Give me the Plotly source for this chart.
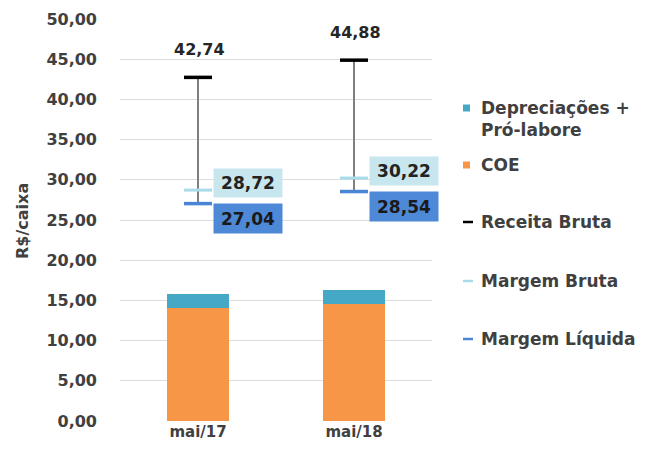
import plotly.graph_objects as go

# ---- data ----
categories = ["mai/17", "mai/18"]
coe = [14.0, 14.5]
depreciacoes = [1.75, 1.80]
receita_bruta = [42.74, 44.88]
margem_bruta = [28.72, 30.22]
margem_liquida = [27.04, 28.54]
y_ticks = [0, 5, 10, 15, 20, 25, 30, 35, 40, 45, 50]
y_tick_labels = ["0,00", "5,00", "10,00", "15,00", "20,00", "25,00",
                 "30,00", "35,00", "40,00", "45,00", "50,00"]

# ---- styles ----
C_COE = "#f79646"
C_DEP = "#45a9c6"
C_RB = "#000000"
C_MB = "#a9dbe8"
C_ML = "#4a86d6"
BOX_MB = "#c8e6ee"
BOX_ML = "#4e89d8"
TXT = "#404040"
FONT = "DejaVu Sans"

xs = list(range(len(categories)))

def fmt(v):
    return f"{v:.2f}".replace(".", ",")

fig = go.Figure()
fig.add_trace(go.Bar(x=xs, y=coe, width=0.4, marker=dict(color=C_COE, line=dict(width=0)),
                     name="COE", showlegend=False))
fig.add_trace(go.Bar(x=xs, y=depreciacoes, width=0.4, marker=dict(color=C_DEP, line=dict(width=0)),
                     name="Depreciações + Pró-labore", showlegend=False))

# vertical gray line from Margem Líquida up to Receita Bruta (as error bar)
fig.add_trace(go.Scatter(
    x=xs, y=receita_bruta, mode="markers",
    marker=dict(symbol="line-ew", size=20, color=C_RB, line=dict(color=C_RB, width=3.5)),
    error_y=dict(type="data", symmetric=False, array=[0] * len(xs),
                 arrayminus=[r - m for r, m in zip(receita_bruta, margem_liquida)],
                 width=0, thickness=2, color="#7f7f7f"),
    name="Receita Bruta", showlegend=False))
fig.add_trace(go.Scatter(
    x=xs, y=margem_bruta, mode="markers",
    marker=dict(symbol="line-ew", size=20, color=C_MB, line=dict(color=C_MB, width=3)),
    name="Margem Bruta", showlegend=False))
fig.add_trace(go.Scatter(
    x=xs, y=margem_liquida, mode="markers",
    marker=dict(symbol="line-ew", size=20, color=C_ML, line=dict(color=C_ML, width=3.5)),
    name="Margem Líquida", showlegend=False))

annotations = []
for i in xs:
    annotations.append(dict(x=i, y=receita_bruta[i], xref="x", yref="y", text=fmt(receita_bruta[i]),
                            showarrow=False, yshift=28, xshift=1,
                            font=dict(family=FONT, size=16, color="#262626", weight="bold")))
    annotations.append(dict(x=i + 0.096, y=margem_bruta[i], xref="x", yref="y", text=fmt(margem_bruta[i]),
                            showarrow=False, xanchor="left", yanchor="middle", yshift=7,
                            bgcolor=BOX_MB, width=66, height=26, borderpad=1,
                            font=dict(family=FONT, size=17, color="#222222", weight="bold")))
    annotations.append(dict(x=i + 0.096, y=margem_liquida[i], xref="x", yref="y", text=fmt(margem_liquida[i]),
                            showarrow=False, xanchor="left", yanchor="middle", yshift=-15,
                            bgcolor=BOX_ML, width=66, height=27, borderpad=1,
                            font=dict(family=FONT, size=17, color="#1a1a1a", weight="bold")))

# custom legend / title positions (paper coordinates: screen px -> paper)
def px_x(p):
    return (p - 120) / 312

def px_y(p):
    return (421 - p) / 402

# y-axis title
annotations.append(dict(x=px_x(22), y=px_y(221), xref="paper", yref="paper", text="R$/caixa", textangle=-90,
                        showarrow=False, xanchor="center", yanchor="middle",
                        font=dict(family=FONT, size=16, color=TXT, weight="bold")))

legend_items = [
    ("Depreciações +<br>Pró-labore", 119, "box", C_DEP, 108),
    ("COE", 165, "box", C_COE, 165),
    ("Receita Bruta", 222, "line", C_RB, 222),
    ("Margem Bruta", 281, "line", C_MB, 281),
    ("Margem Líquida", 339, "line", C_ML, 339),
]
shapes = []
for text, ty, kind, col, sy in legend_items:
    annotations.append(dict(x=px_x(479), y=px_y(ty), xref="paper", yref="paper", text=text,
                            showarrow=False, xanchor="left", yanchor="middle", align="left",
                            font=dict(family=FONT, size=17, color=TXT, weight="bold")))
    if kind == "box":
        shapes.append(dict(type="rect", xref="paper", yref="paper",
                           x0=px_x(463), x1=px_x(470), y0=px_y(sy + 3.5), y1=px_y(sy - 3.5),
                           fillcolor=col, line=dict(width=0)))
    else:
        shapes.append(dict(type="line", xref="paper", yref="paper",
                           x0=px_x(463), x1=px_x(473), y0=px_y(sy), y1=px_y(sy),
                           line=dict(color=col, width=2.5)))

fig.update_layout(
    width=666, height=459,
    margin=dict(l=112, r=242, t=11, b=46, autoexpand=False),
    paper_bgcolor="white", plot_bgcolor="white",
    barmode="stack", bargap=0,
    showlegend=False,
    annotations=annotations, shapes=shapes,
    font=dict(family=FONT, color=TXT),
)
fig.update_xaxes(range=[-0.5, 1.5], tickmode="array", tickvals=xs, ticktext=categories,
                 showgrid=False, zeroline=False, showline=False, ticks="",
                 tickfont=dict(family=FONT, size=15, color=TXT, weight="bold"))
fig.update_yaxes(range=[0, 50], tickmode="array", tickvals=y_ticks, ticktext=y_tick_labels,
                 showgrid=True, gridcolor="#dcdcdc", gridwidth=1, zeroline=False,
                 showline=False, ticks="", ticklabelstandoff=22,
                 tickfont=dict(family=FONT, size=16, color=TXT, weight="bold"))

fig.write_html("out.html")
